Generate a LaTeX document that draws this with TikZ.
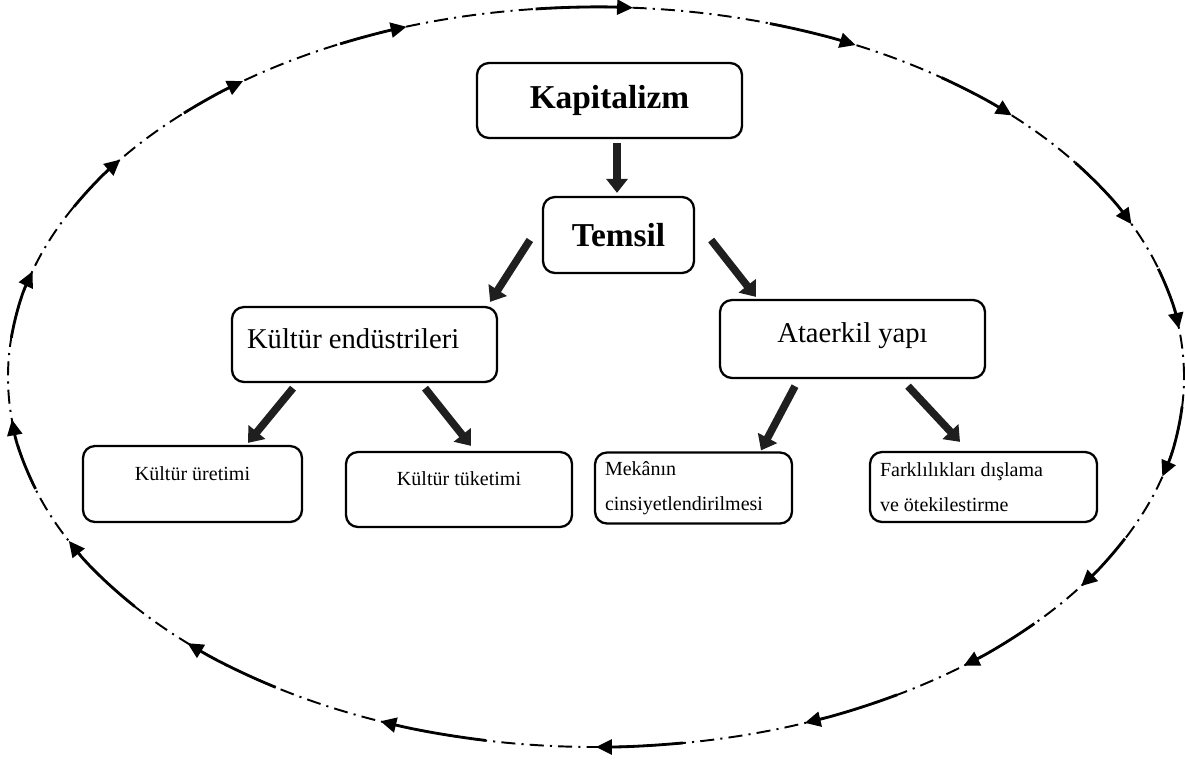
\documentclass[tikz,border=0pt]{standalone}
\usepackage{fontspec}
\setmainfont{Liberation Serif}
\usetikzlibrary{arrows.meta}

\tikzset{
  framed/.style={draw, line width=1.3pt, rounded corners=0.24cm},
  topbox/.style={framed, font=\fontsize{19}{22}\selectfont\bfseries, inner sep=0pt},
  midbox/.style={framed, font=\fontsize{16.3}{19}\selectfont, inner sep=0pt, minimum width=5.3cm, minimum height=1.5cm, text depth=7pt},
  lowbox/.style={framed, font=\fontsize{11.4}{20}\selectfont, inner sep=0pt, minimum height=1.5cm, text depth=12pt},
  pairbox/.style={framed, font=\fontsize{11.4}{20}\selectfont, inner xsep=0.2cm, inner ysep=0pt, align=flush left, minimum height=1.42cm},
  fatarrow/.style={line width=4.3pt, color=black!88, -{Triangle[length=8pt,width=12pt]}},
  ringline/.style={line width=1.1pt, dash pattern=on 8pt off 3.5pt on 1.2pt off 3.5pt},
  ringarrow/.style={line width=1.6pt, -{Triangle[length=9pt,width=8.5pt]}}
}

\begin{document}
\begin{tikzpicture}
\useasboundingbox (0,0) rectangle (23.7,-15.2);

\coordinate (c) at (11.92,-7.54);
\draw[ringline] (c) ellipse[x radius=11.76cm, y radius=7.4cm];
\foreach \a/\l in {86.4/9.5, 63.8/9, 45/9, 24.4/11, 7.5/9.5, -15.6/11, -34.4/8.5, -51.3/9.5, -69.2/10, -90/8.5, -111.5/10.7, -134/11, -153.7/12, -173.4/11, 163.4/10.5, 144/8.6, 126.9/7.6, 108.8/7}
  \draw[ringarrow] (c) ++(\a+\l:11.76 and 7.4) arc[start angle=\a+\l, end angle=\a, x radius=11.76, y radius=7.4];

\node[topbox, minimum width=5.3cm, minimum height=1.5cm] (kap) at (12.19,-2.01) {Kapitalizm};
\node[topbox, minimum width=3.02cm, minimum height=1.52cm] (tem) at (12.37,-4.7) {Temsil};

\node[midbox, text width=4.7cm, inner xsep=0.3cm, align=flush left] (ke) at (7.29,-6.89) {Kültür endüstrileri};
\node[midbox, minimum height=1.56cm] (ata) at (17.05,-6.78) {Ataerkil yapı};

\node[lowbox, minimum width=4.38cm, minimum height=1.52cm] (ku) at (3.85,-9.68) {Kültür üretimi};
\node[lowbox, minimum width=4.52cm] (kt) at (9.18,-9.79) {Kültür tüketimi};
\node[pairbox, text width=3.54cm] (mek) at (13.87,-9.76) {Mekânın\\cinsiyetlendirilmesi};
\node[pairbox, text width=4.14cm, minimum height=1.4cm] (far) at (19.67,-9.74) {Farklılıkları dışlama\\ve ötekilestirme};

\draw[fatarrow] ([xshift=0.15cm,yshift=-0.08cm]kap.south) -- ([xshift=-0.03cm,yshift=0.06cm]tem.north);
\draw[fatarrow] ([shift={(-0.24,-0.1)}]tem.west) -- ([shift={(-0.16,0.08)}]ke.north east);
\draw[fatarrow] ([shift={(0.32,-0.1)}]tem.east) -- ([shift={(0.74,0.04)}]ata.north west);
\draw[fatarrow] ([shift={(-1.43,-0.1)}]ke.south) -- ([shift={(1.11,0.04)}]ku.north);
\draw[fatarrow] ([shift={(1.21,-0.1)}]ke.south) -- ([shift={(0.24,0.1)}]kt.north);
\draw[fatarrow] ([shift={(-1.15,-0.14)}]ata.south) -- ([shift={(1.35,0.02)}]mek.north);
\draw[fatarrow] ([shift={(1.11,-0.14)}]ata.south) -- ([shift={(-0.47,0.18)}]far.north);

\end{tikzpicture}
\end{document}
